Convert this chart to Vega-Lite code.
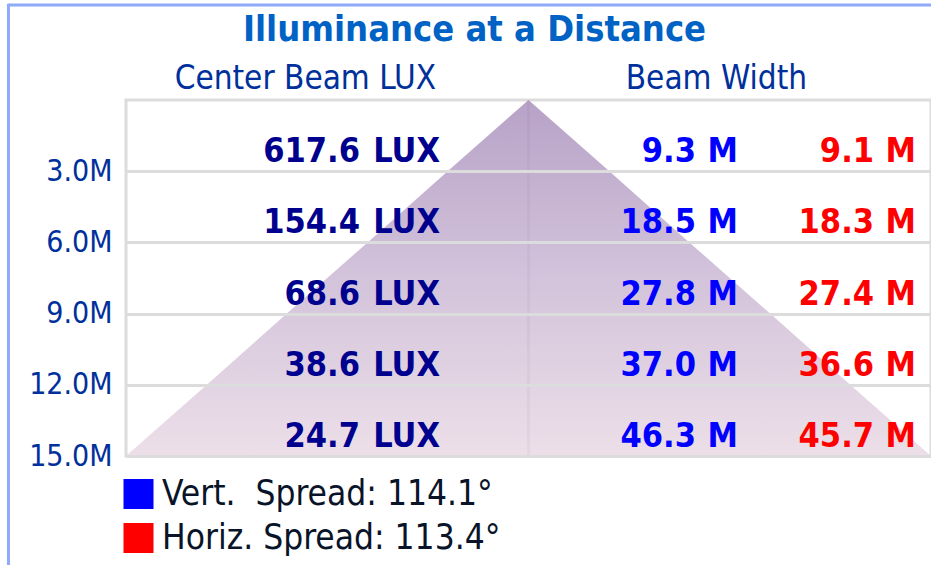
{
  "$schema": "https://vega.github.io/schema/vega-lite/v6.json",
  "width": 805,
  "height": 356,
  "autosize": "none",
  "padding": {"left": 126, "top": 100, "right": 0, "bottom": 109},
  "background": "white",
  "title": {
    "text": "Illuminance at a Distance",
    "font": "DejaVu Sans Condensed, DejaVu Sans",
    "fontSize": 36,
    "fontWeight": "bold",
    "color": "#0062c4",
    "anchor": "middle",
    "frame": "group",
    "dx": -54,
    "offset": 0,
    "dy": 47
  },
  "datasets": {
    "table": [
      {"distance": 3, "lux": 617.6, "vert": 9.3, "horiz": 9.1},
      {"distance": 6, "lux": 154.4, "vert": 18.5, "horiz": 18.3},
      {"distance": 9, "lux": 68.6, "vert": 27.8, "horiz": 27.4},
      {"distance": 12, "lux": 38.6, "vert": 37.0, "horiz": 36.6},
      {"distance": 15, "lux": 24.7, "vert": 46.3, "horiz": 45.7}
    ],
    "beam": [
      {"distance": 0, "left": 0, "right": 0},
      {"distance": 3, "left": -4.65, "right": 4.65},
      {"distance": 6, "left": -9.25, "right": 9.25},
      {"distance": 9, "left": -13.9, "right": 13.9},
      {"distance": 12, "left": -18.5, "right": 18.5},
      {"distance": 15, "left": -23.15, "right": 23.15}
    ],
    "frame": [
      {"edge": "outer"}
    ]
  },
  "config": {
    "view": {"stroke": "#dcdcdc", "strokeWidth": 3},
    "font": "DejaVu Sans Condensed, DejaVu Sans",
    "legend": {
      "orient": "none",
      "legendX": -5,
      "legendY": 379,
      "title": null,
      "symbolType": "square",
      "symbolSize": 900,
      "symbolStrokeWidth": 0,
      "symbolOpacity": 1,
      "labelFont": "DejaVu Sans Condensed, DejaVu Sans",
      "labelFontSize": 35,
      "labelColor": "#0a1428",
      "labelOffset": 6,
      "rowPadding": 9,
      "clipHeight": 30,
      "labelLimit": 0,
      "padding": 0
    }
  },
  "layer": [
    {
      "data": {"name": "beam"},
      "mark": {
        "type": "area",
        "orient": "horizontal",
        "color": {
          "gradient": "linear",
          "x1": 0, "y1": 0, "x2": 0, "y2": 1,
          "stops": [
            {"offset": 0, "color": "#b7a2c7"},
            {"offset": 0.5, "color": "#d3c3db"},
            {"offset": 1, "color": "#ecdfe8"}
          ]
        }
      },
      "encoding": {
        "y": {
          "field": "distance",
          "type": "quantitative",
          "scale": {"domain": [0, 15], "reverse": true, "nice": false, "zero": false},
          "axis": {
            "orient": "left",
            "values": [3, 6, 9, 12, 15],
            "labelExpr": "format(datum.value, '.1f') + 'M'",
            "title": null,
            "grid": true,
            "gridColor": "#dcdcdc",
            "gridWidth": 3,
            "gridOpacity": 1,
            "domain": false,
            "ticks": false,
            "tickSize": 0,
            "labelPadding": 14,
            "labelFontSize": 30,
            "labelColor": "#00309c",
            "labelFont": "DejaVu Sans Condensed, DejaVu Sans",
            "zindex": 1
          }
        },
        "x": {
          "field": "left",
          "type": "quantitative",
          "scale": {"domain": [-23.15, 23.15], "nice": false, "zero": false},
          "axis": {
            "orient": "top",
            "values": [-12.86, 10.78],
            "labelExpr": "datum.value < 0 ? 'Center Beam LUX' : 'Beam Width'",
            "title": null,
            "grid": false,
            "domain": false,
            "ticks": false,
            "tickSize": 0,
            "labelPadding": 12,
            "labelBaseline": "alphabetic",
            "labelFontSize": 33,
            "labelColor": "#00309c",
            "labelFont": "DejaVu Sans Condensed, DejaVu Sans",
            "labelFlush": false,
            "labelOverlap": false,
            "labelLimit": 0
          }
        },
        "x2": {"field": "right"}
      }
    },
    {
      "data": {"name": "frame"},
      "mark": {"type": "rule", "color": "#5a3a78", "opacity": 0.05, "strokeWidth": 3},
      "encoding": {
        "x": {"datum": 0, "type": "quantitative"},
        "y": {"datum": 0, "type": "quantitative"},
        "y2": {"datum": 15}
      }
    },
    {
      "data": {"name": "frame"},
      "mark": {"type": "rule", "color": "#8eaaf8", "strokeWidth": 3},
      "encoding": {
        "x": {"datum": -29.91, "type": "quantitative"},
        "x2": {"datum": 23.3},
        "y": {"datum": -4.0, "type": "quantitative"}
      }
    },
    {
      "data": {"name": "frame"},
      "mark": {"type": "rule", "color": "#8eaaf8", "strokeWidth": 3},
      "encoding": {
        "x": {"datum": -29.91, "type": "quantitative"},
        "y": {"datum": -4.06, "type": "quantitative"},
        "y2": {"datum": 19.7}
      }
    },
    {
      "data": {"name": "table"},
      "mark": {"type": "text", "align": "right", "baseline": "alphabetic", "dx": -80, "dy": -9, "fontSize": 34, "fontWeight": "bold", "color": "#00008f"},
      "encoding": {
        "x": {"datum": -5.09, "type": "quantitative"},
        "y": {"field": "distance", "type": "quantitative"},
        "text": {"field": "lux", "type": "quantitative", "format": ".1f"}
      }
    },
    {
      "data": {"name": "table"},
      "mark": {"type": "text", "align": "right", "baseline": "alphabetic", "dy": -9, "fontSize": 34, "fontWeight": "bold", "color": "#00008f"},
      "encoding": {
        "x": {"datum": -5.09, "type": "quantitative"},
        "y": {"field": "distance", "type": "quantitative"},
        "text": {"value": "LUX"}
      }
    },
    {
      "data": {"name": "table"},
      "mark": {"type": "text", "align": "right", "baseline": "alphabetic", "dx": -42, "dy": -9, "fontSize": 34, "fontWeight": "bold"},
      "encoding": {
        "x": {"datum": 12.05, "type": "quantitative"},
        "y": {"field": "distance", "type": "quantitative"},
        "text": {"field": "vert", "type": "quantitative", "format": ".1f"},
        "color": {
          "datum": "vert",
          "type": "nominal",
          "scale": {"domain": ["vert", "horiz"], "range": ["#0000ff", "#ff0000"]},
          "legend": {"labelExpr": "datum.value == 'vert' ? 'Vert.\u00a0 Spread: 114.1°' : 'Horiz. Spread: 113.4°'"}
        }
      }
    },
    {
      "data": {"name": "table"},
      "mark": {"type": "text", "align": "right", "baseline": "alphabetic", "dy": -9, "fontSize": 34, "fontWeight": "bold"},
      "encoding": {
        "x": {"datum": 12.05, "type": "quantitative"},
        "y": {"field": "distance", "type": "quantitative"},
        "text": {"value": "M"},
        "color": {"datum": "vert", "type": "nominal"}
      }
    },
    {
      "data": {"name": "table"},
      "mark": {"type": "text", "align": "right", "baseline": "alphabetic", "dx": -42, "dy": -9, "fontSize": 34, "fontWeight": "bold"},
      "encoding": {
        "x": {"datum": 22.29, "type": "quantitative"},
        "y": {"field": "distance", "type": "quantitative"},
        "text": {"field": "horiz", "type": "quantitative", "format": ".1f"},
        "color": {"datum": "horiz", "type": "nominal"}
      }
    },
    {
      "data": {"name": "table"},
      "mark": {"type": "text", "align": "right", "baseline": "alphabetic", "dy": -9, "fontSize": 34, "fontWeight": "bold"},
      "encoding": {
        "x": {"datum": 22.29, "type": "quantitative"},
        "y": {"field": "distance", "type": "quantitative"},
        "text": {"value": "M"},
        "color": {"datum": "horiz", "type": "nominal"}
      }
    }
  ]
}
